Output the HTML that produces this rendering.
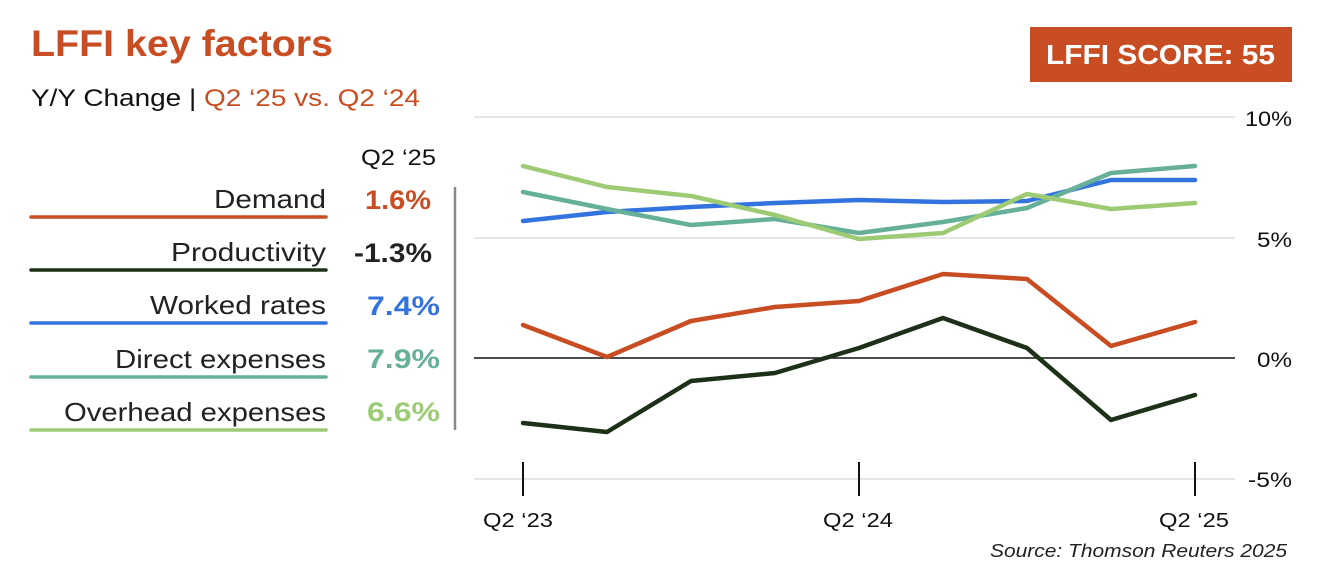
<!DOCTYPE html>
<html><head><meta charset="utf-8"><style>
body{margin:0;width:1330px;height:572px;background:#fff;overflow:hidden;font-family:"Liberation Sans",sans-serif;}
</style></head><body>
<svg width="1330" height="572" xmlns="http://www.w3.org/2000/svg" font-family="Liberation Sans, sans-serif">
<text x="31" y="56" font-size="37" font-weight="bold" fill="#c94d22" textLength="302" lengthAdjust="spacingAndGlyphs">LFFI key factors</text>
<text x="31" y="106" font-size="24" fill="#111" textLength="389" lengthAdjust="spacingAndGlyphs">Y/Y Change | <tspan fill="#c94d22">Q2 ‘25 vs. Q2 ‘24</tspan></text>
<rect x="1030" y="27" width="262" height="55" fill="#c94d22"/>
<text x="1046" y="64" font-size="28" font-weight="bold" fill="#fff" textLength="229" lengthAdjust="spacingAndGlyphs">LFFI SCORE: 55</text>
<text x="361" y="165" font-size="22" fill="#111" textLength="75" lengthAdjust="spacingAndGlyphs">Q2 ‘25</text>
<g font-size="26" fill="#222" text-anchor="end">
<text x="326" y="208" textLength="112" lengthAdjust="spacingAndGlyphs">Demand</text>
<text x="326" y="261" textLength="155" lengthAdjust="spacingAndGlyphs">Productivity</text>
<text x="326" y="314" textLength="176" lengthAdjust="spacingAndGlyphs">Worked rates</text>
<text x="326" y="368" textLength="211" lengthAdjust="spacingAndGlyphs">Direct expenses</text>
<text x="326" y="421" textLength="262" lengthAdjust="spacingAndGlyphs">Overhead expenses</text>
</g>
<g font-size="27" font-weight="bold" text-anchor="end">
<text x="431" y="209" fill="#c94d22" textLength="66" lengthAdjust="spacingAndGlyphs">1.6%</text>
<text x="432" y="262" fill="#222" textLength="78" lengthAdjust="spacingAndGlyphs">-1.3%</text>
<text x="440" y="315" fill="#3373e0" textLength="73" lengthAdjust="spacingAndGlyphs">7.4%</text>
<text x="440" y="368" fill="#66b09a" textLength="73" lengthAdjust="spacingAndGlyphs">7.9%</text>
<text x="440" y="421" fill="#9ccb74" textLength="73" lengthAdjust="spacingAndGlyphs">6.6%</text>
</g>
<g stroke-width="3.5" stroke-linecap="round">
<line x1="31" y1="217" x2="326" y2="217" stroke="#c94d22"/>
<line x1="31" y1="270" x2="326" y2="270" stroke="#1d3018"/>
<line x1="31" y1="323" x2="326" y2="323" stroke="#3373e0"/>
<line x1="31" y1="377" x2="326" y2="377" stroke="#66b09a"/>
<line x1="31" y1="430" x2="326" y2="430" stroke="#9ccb74"/>
</g>
<line x1="455" y1="187" x2="455" y2="430" stroke="#888" stroke-width="2.5"/>
<g stroke="#ddd" stroke-width="1.5">
<line x1="474" y1="117" x2="1235" y2="117"/>
<line x1="474" y1="238" x2="1235" y2="238"/>
<line x1="474" y1="479" x2="1235" y2="479"/>
</g>
<line x1="474" y1="358" x2="1235" y2="358" stroke="#111" stroke-width="1.5"/>
<g font-size="21" fill="#111">
<text x="1245" y="126" textLength="47" lengthAdjust="spacingAndGlyphs">10%</text>
<text x="1257" y="247" textLength="35" lengthAdjust="spacingAndGlyphs">5%</text>
<text x="1257" y="367" textLength="35" lengthAdjust="spacingAndGlyphs">0%</text>
<text x="1248" y="487" textLength="44" lengthAdjust="spacingAndGlyphs">-5%</text>
</g>
<g stroke="#111" stroke-width="2">
<line x1="523" y1="462" x2="523" y2="496"/>
<line x1="859" y1="462" x2="859" y2="496"/>
<line x1="1195" y1="462" x2="1195" y2="496"/>
</g>
<g font-size="20" fill="#111">
<text x="483" y="527" textLength="70" lengthAdjust="spacingAndGlyphs">Q2 ‘23</text>
<text x="823" y="527" textLength="70" lengthAdjust="spacingAndGlyphs">Q2 ‘24</text>
<text x="1159" y="527" textLength="70" lengthAdjust="spacingAndGlyphs">Q2 ‘25</text>
</g>
<text x="990" y="557" font-size="18" font-style="italic" fill="#222" textLength="297" lengthAdjust="spacingAndGlyphs">Source: Thomson Reuters 2025</text>
<g fill="none" stroke-width="4.5" stroke-linejoin="round" stroke-linecap="round">
<polyline stroke="#3373e0" points="523,221 607,212 691,207 775,203 859,200 943,202 1027,201 1111,180 1195,180"/>
<polyline stroke="#66b09a" points="523,192 607,209 691,225 775,219 859,233 943,222 1027,208 1111,173 1195,166"/>
<polyline stroke="#9ccb74" points="523,166 607,187 691,196 775,215 859,239 943,233 1027,194 1111,209 1195,203"/>
<polyline stroke="#c94d22" points="523,325 607,357 691,321 775,307 859,301 943,274 1027,279 1111,346 1195,322"/>
<polyline stroke="#1d3018" points="523,423 607,432 691,381 775,373 859,348 943,318 1027,348 1111,420 1195,395"/>
</g>
</svg>
</body></html>
